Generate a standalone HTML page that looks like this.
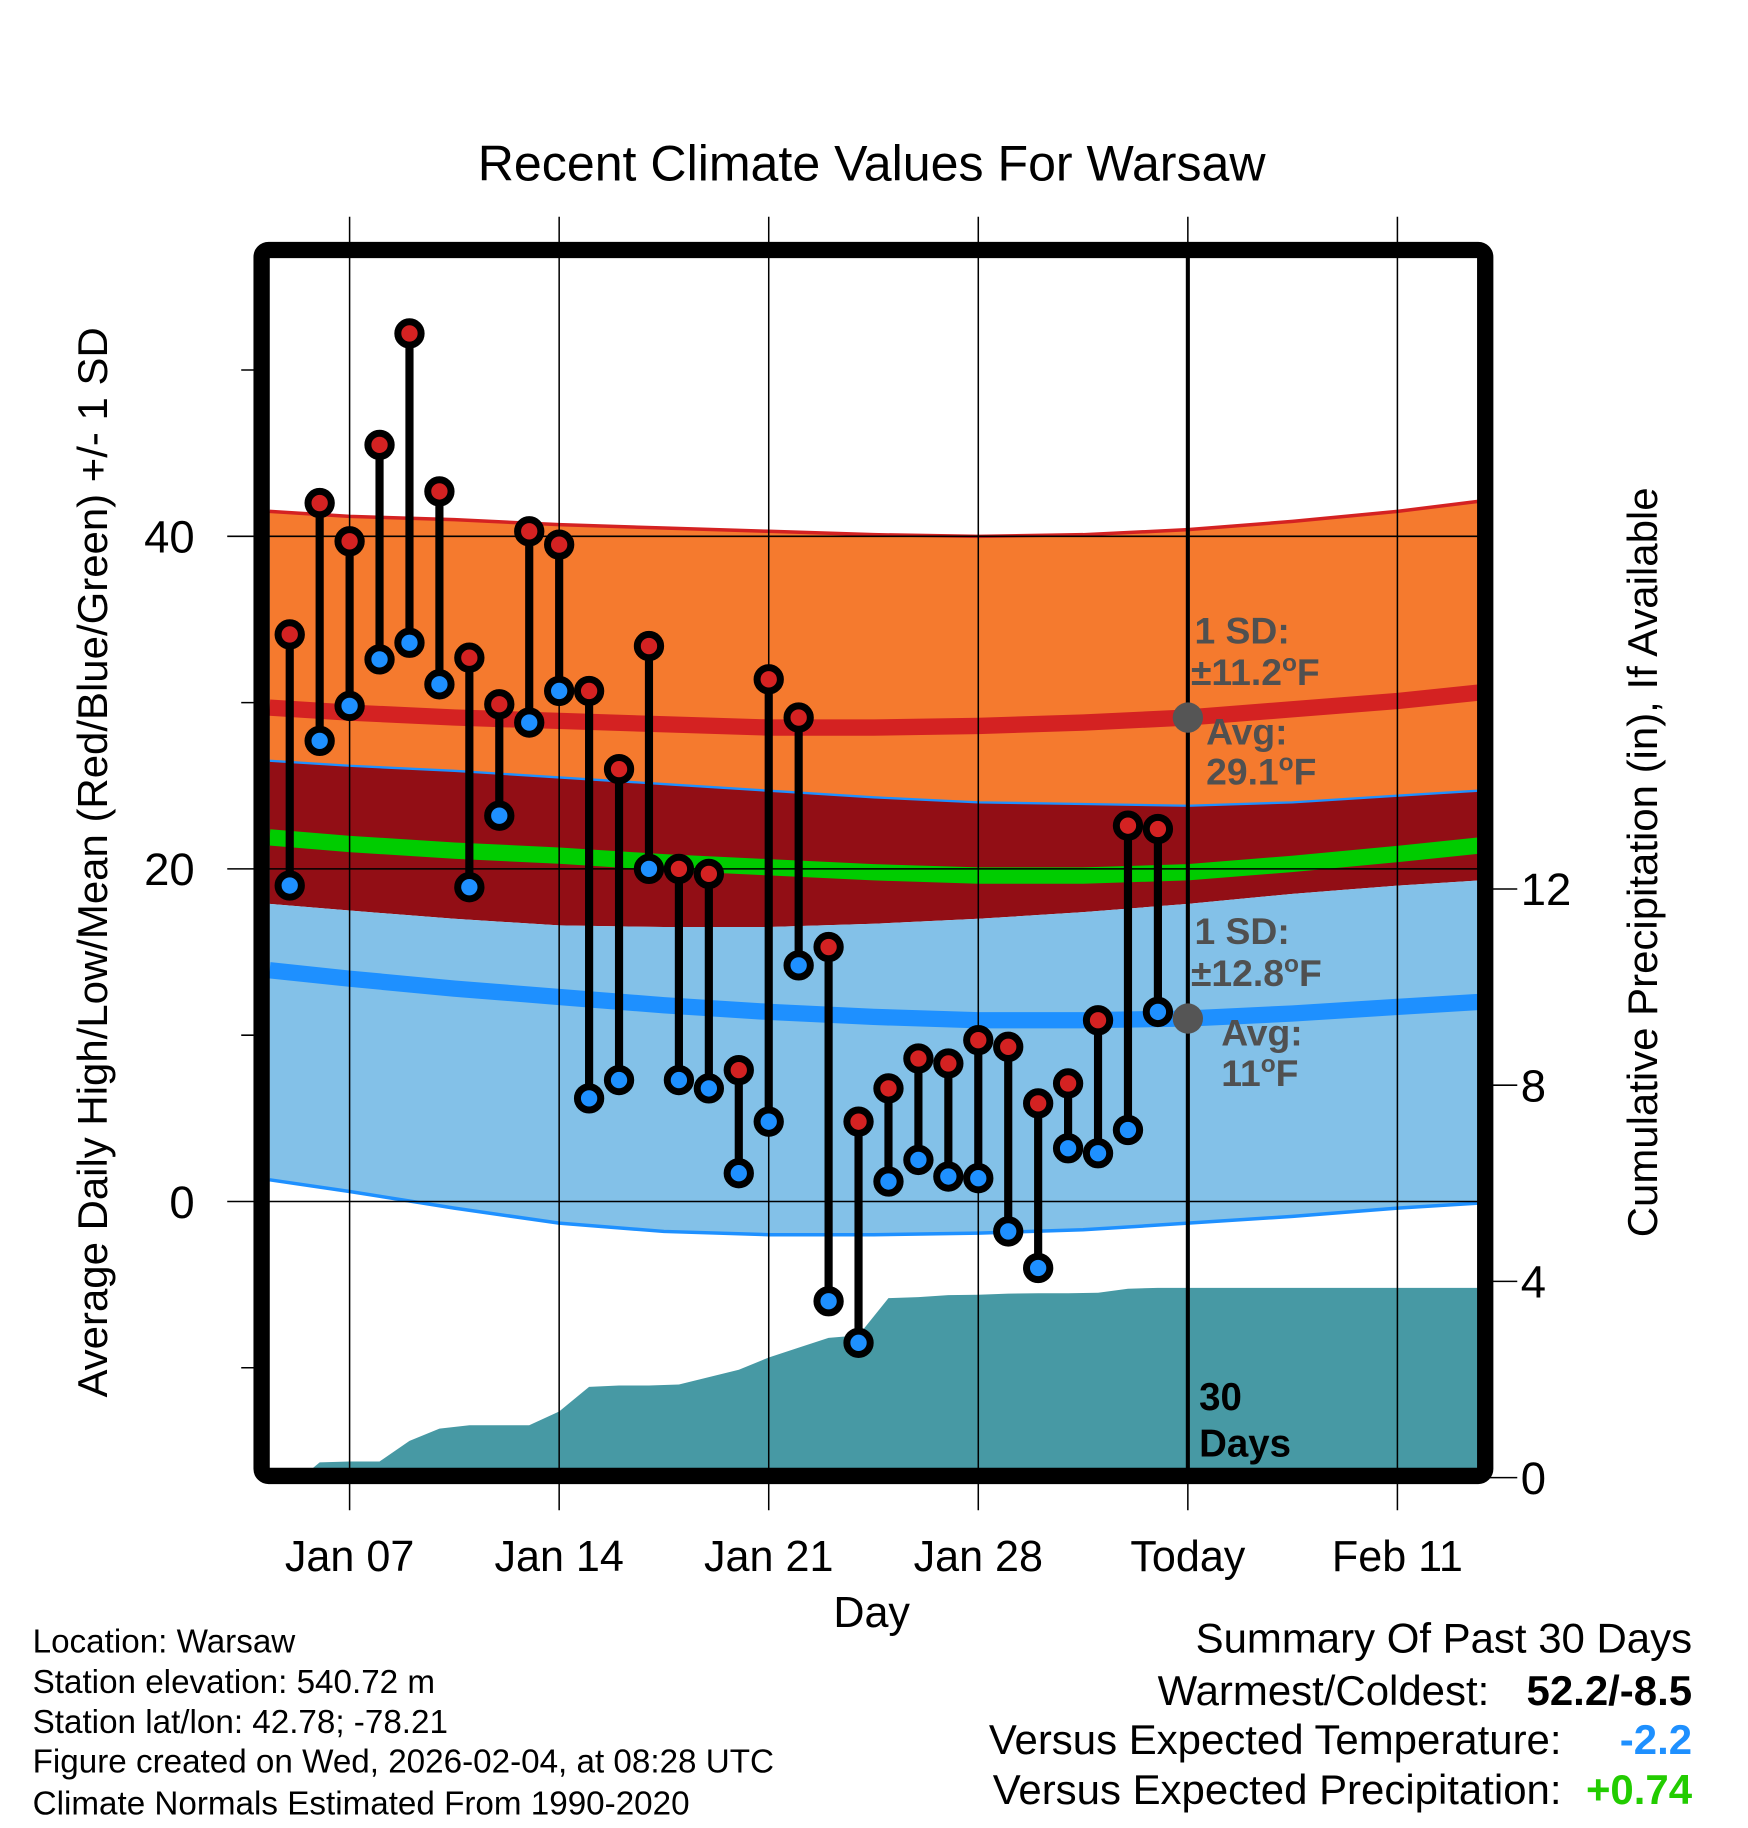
<!DOCTYPE html>
<html><head><meta charset="utf-8">
<style>
html,body{margin:0;padding:0;background:#fff;}
svg{display:block;font-family:"Liberation Sans",Arial,sans-serif;}
</style></head>
<body>
<svg id="chart" width="1748" height="1828" viewBox="0 0 1500 1568.6" xmlns="http://www.w3.org/2000/svg">
<g id="fills"></g>
<g id="grid"></g>
<g id="marks"></g>
<g id="labels"></g>
</svg>
<script>
// ---- data ----
const days = [5,6,7,8,9,10,11,12,13,14,15,16,17,18,19,20,21,22,23,24,25,26,27,28,29,30,31,32,33,34];
const highs = [34.1,42.0,39.7,45.5,52.2,42.7,32.7,29.9,40.3,39.5,30.7,26.0,33.4,20.0,19.7,7.9,31.4,29.1,15.3,4.8,6.8,8.6,8.3,9.7,9.3,5.9,7.1,10.9,22.6,22.4];
const lows = [19.0,27.7,29.8,32.6,33.6,31.1,18.9,23.2,28.8,30.7,6.2,7.3,20.0,7.3,6.8,1.7,4.8,14.2,-6.0,-8.5,1.2,2.5,1.5,1.4,-1.8,-4.0,3.2,2.9,4.3,11.4];
const precip = [0,0.31,0.33,0.33,0.75,1.0,1.07,1.07,1.07,1.35,1.85,1.88,1.88,1.9,2.05,2.2,2.45,2.65,2.85,2.9,3.66,3.68,3.72,3.73,3.75,3.76,3.76,3.77,3.85,3.87];
const normDays = [4.33,7,10.5,14,17.5,21,24.5,28,31.5,35,38.5,42,44.7];
const highPlus = [41.5,41.2,41.0,40.7,40.5,40.3,40.1,40.0,40.1,40.4,40.9,41.5,42.1];
const highMean = [29.7,29.4,29.1,28.9,28.7,28.5,28.5,28.6,28.8,29.1,29.6,30.1,30.6];
const highMinus = [26.5,26.2,25.9,25.5,25.1,24.7,24.3,24.0,23.9,23.8,24.0,24.4,24.7];
const meanT = [21.9,21.5,21.1,20.8,20.4,20.1,19.8,19.6,19.6,19.8,20.3,20.9,21.4];
const lowPlus = [17.9,17.5,17.0,16.6,16.5,16.5,16.7,17.0,17.4,17.9,18.5,19.0,19.3];
const lowMean = [13.9,13.4,12.8,12.3,11.8,11.4,11.1,10.9,10.9,11.0,11.3,11.7,12.0];
const lowMinus = [1.3,0.6,-0.4,-1.3,-1.8,-2.0,-2.0,-1.9,-1.7,-1.3,-0.9,-0.4,-0.1];
const xTickDays = [7,14,21,28,35,42];
const xTickLabels = ["Jan 07","Jan 14","Jan 21","Jan 28","Today","Feb 11"];
const yTicks = [40,20,0];
const yMinor = [50,30,10,-10];
const pTicks = [0,4,8,12];
const todayDay = 35;

// ---- axes ----
const X0=231,X1=1268,Y0=221,Y1=1260;
const x = d => 300 + (d-7)*25.69;
const y = v => 1031 - v*14.27;
const yp = p => 1268 - p*42.1;
const NS="http://www.w3.org/2000/svg";
function mk(tag, attrs, parent, text){
  const e=document.createElementNS(NS,tag);
  for(const k in attrs) e.setAttribute(k,attrs[k]);
  if(text!==undefined) e.textContent=text;
  document.getElementById(parent).appendChild(e);
  return e;
}
function linePts(arr){return normDays.map((d,i)=>x(d).toFixed(1)+","+y(arr[i]).toFixed(1));}
function band(top,bot){return linePts(top).concat(linePts(bot).reverse()).join(" ");}

let e;
e=mk("polygon",{points:band(highPlus,highMinus),fill:"#f57a2e"},"fills");


e=mk("polygon",{points:band(highMinus,lowPlus),fill:"#920e15"},"fills");


e=mk("polygon",{points:band(lowPlus,lowMinus),fill:"#83c1e8"},"fills");


e=mk("polyline",{points:linePts(highPlus).join(" "),fill:"none",stroke:"#d42222","stroke-width":3},"fills");


e=mk("polyline",{points:linePts(highMinus).join(" "),fill:"none",stroke:"#1e90ff","stroke-width":2},"fills");


e=mk("polyline",{points:linePts(lowMinus).join(" "),fill:"none",stroke:"#1e90ff","stroke-width":3},"fills");


e=mk("polyline",{points:linePts(highMean).join(" "),fill:"none",stroke:"#d42222","stroke-width":14},"fills");


e=mk("polyline",{points:linePts(meanT).join(" "),fill:"none",stroke:"#00cc00","stroke-width":14},"fills");


e=mk("polyline",{points:linePts(lowMean).join(" "),fill:"none",stroke:"#1e90ff","stroke-width":14},"fills");



// precip area
let pp=[x(days[0])+10+","+yp(0)];
days.forEach((d,i)=>{ if(i>0) pp.push(x(d).toFixed(1)+","+yp(precip[i]).toFixed(1)); });
pp.push(X1+","+yp(precip[precip.length-1]).toFixed(1));
pp.push(X1+","+Y1);
pp.push((x(days[0])+10)+","+Y1);
e=mk("polygon",{points:pp.join(" "),fill:"#4799a4"},"fills");



// grid
xTickDays.forEach(d=>{
  e=mk("line",{x1:x(d),x2:x(d),y1:186,y2:1296,stroke:"#000","stroke-width":1.3},"grid");
  
  
});
yTicks.forEach(v=>{
  e=mk("line",{x1:195,x2:X1,y1:y(v),y2:y(v),stroke:"#000","stroke-width":1.3},"grid");
  
  
  e=mk("text",{x:167,y:y(v)+14,"text-anchor":"end","font-size":39},"labels",String(v));
  
  
});
yMinor.forEach(v=>{
  e=mk("line",{x1:207,x2:222,y1:y(v),y2:y(v),stroke:"#000","stroke-width":1.3},"grid");
  
  
});
pTicks.forEach(p=>{
  e=mk("line",{x1:1276,x2:1302,y1:yp(p),y2:yp(p),stroke:"#000","stroke-width":1.3},"grid");
  
  
  e=mk("text",{x:1305,y:yp(p)+14,"font-size":39},"labels",String(p));
  
  
});
xTickDays.forEach((d,i)=>{
  e=mk("text",{x:x(d),y:1348,"text-anchor":"middle","font-size":37},"labels",xTickLabels[i]);
  
  
});
// today line
e=mk("line",{x1:x(todayDay),x2:x(todayDay),y1:Y0,y2:Y1,stroke:"#000","stroke-width":3.5},"grid");



// markers
days.forEach((d,i)=>{
  const cx=x(d);
  e=mk("line",{x1:cx,x2:cx,y1:y(highs[i]),y2:y(lows[i]),stroke:"#000","stroke-width":7},"marks");
  
  
  e=mk("circle",{cx:cx,cy:y(highs[i]),r:10,fill:"#d42222",stroke:"#000","stroke-width":6},"marks");
  
  
  e=mk("circle",{cx:cx,cy:y(lows[i]),r:10,fill:"#1e90ff",stroke:"#000","stroke-width":6},"marks");
  
  
});
// avg dots
e=mk("circle",{cx:x(todayDay),cy:y(highMean[9]),r:13,fill:"#555"},"marks");


e=mk("circle",{cx:x(todayDay),cy:y(lowMean[9]),r:13,fill:"#555"},"marks");



// frame
e=mk("rect",{x:224.5,y:214.5,width:1050,height:1052,rx:6,fill:"none",stroke:"#000","stroke-width":14},"marks");


</script>
<svg style="position:absolute;left:0;top:0" width="1748" height="1828" viewBox="0 0 1500 1568.6" xmlns="http://www.w3.org/2000/svg" font-family="Liberation Sans, Arial, sans-serif">
<text x="748" y="155" text-anchor="middle" font-size="43">Recent Climate Values For Warsaw</text>
<text transform="translate(92,740) rotate(-90)" text-anchor="middle" font-size="36">Average Daily High/Low/Mean (Red/Blue/Green) +/- 1 SD</text>
<text transform="translate(1422,740) rotate(-90)" text-anchor="middle" font-size="36">Cumulative Precipitation (in), If Available</text>
<text x="748" y="1396" text-anchor="middle" font-size="37">Day</text>
<g fill="#505050" font-weight="bold" font-size="32">
<text x="1025" y="552">1 SD:</text>
<text x="1022" y="588">±11.2<tspan dy="-12" font-size="21">o</tspan><tspan dy="12">F</tspan></text>
<text x="1035" y="639">Avg:</text>
<text x="1035" y="673">29.1<tspan dy="-12" font-size="21">o</tspan><tspan dy="12">F</tspan></text>
</g>
<g fill="#505050" font-weight="bold" font-size="32">
<text x="1025" y="810">1 SD:</text>
<text x="1022" y="846">±12.8<tspan dy="-12" font-size="21">o</tspan><tspan dy="12">F</tspan></text>
<text x="1048" y="897">Avg:</text>
<text x="1048" y="932">11<tspan dy="-12" font-size="21">o</tspan><tspan dy="12">F</tspan></text>
</g>
<g font-weight="bold" font-size="33">
<text x="1029" y="1210">30</text>
<text x="1029" y="1250">Days</text>
</g>
<g font-size="28.5">
<text x="28" y="1418">Location: Warsaw</text>
<text x="28" y="1453">Station elevation: 540.72 m</text>
<text x="28" y="1487">Station lat/lon: 42.78; -78.21</text>
<text x="28" y="1521">Figure created on Wed, 2026-02-04, at 08:28 UTC</text>
<text x="28" y="1557">Climate Normals Estimated From 1990-2020</text>
</g>
<g font-size="36">
<text x="1452" y="1418" text-anchor="end">Summary Of Past 30 Days</text>
<text x="1278" y="1463" text-anchor="end">Warmest/Coldest:</text>
<text x="1452" y="1463" text-anchor="end" font-weight="bold">52.2/-8.5</text>
<text x="1340" y="1505" text-anchor="end">Versus Expected Temperature:</text>
<text x="1452" y="1505" text-anchor="end" font-weight="bold" fill="#1e90ff">-2.2</text>
<text x="1340" y="1548" text-anchor="end">Versus Expected Precipitation:</text>
<text x="1452" y="1548" text-anchor="end" font-weight="bold" fill="#22cc00">+0.74</text>
</g>
</svg>
</body></html>
